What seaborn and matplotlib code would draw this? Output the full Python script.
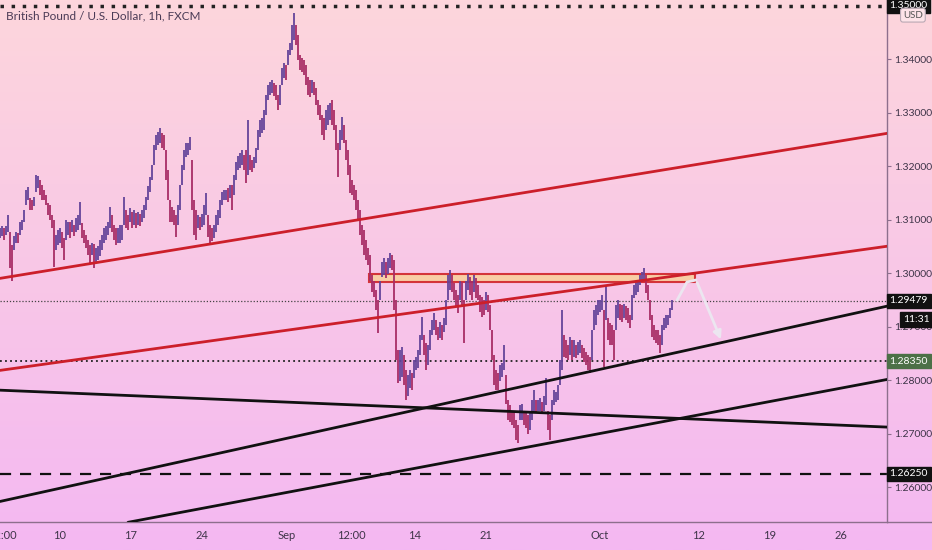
import numpy as np
import matplotlib.pyplot as plt
import seaborn as sns
from matplotlib.colors import LinearSegmentedColormap

# GBP/USD 1h (one high/low pair per ~3.4h step)
highs = [
    1.3084, 1.3087, 1.3084, 1.3087, 1.3108, 1.3076, 1.3052, 1.3069, 1.3076, 1.3074,
    1.3095, 1.3099, 1.3117, 1.3155, 1.3160, 1.3140, 1.3136, 1.3143, 1.3183, 1.3181,
    1.3173, 1.3164, 1.3155, 1.3145, 1.3130, 1.3127, 1.3108, 1.3099, 1.3071, 1.3080,
    1.3084, 1.3076, 1.3065, 1.3099, 1.3095, 1.3095, 1.3099, 1.3089, 1.3102, 1.3108,
    1.3132, 1.3093, 1.3080, 1.3071, 1.3061, 1.3052, 1.3057, 1.3054, 1.3046, 1.3050,
    1.3061, 1.3071, 1.3084, 1.3087, 1.3095, 1.3123, 1.3108, 1.3089, 1.3084, 1.3084,
    1.3089, 1.3089, 1.3142, 1.3117, 1.3108, 1.3121, 1.3114, 1.3117, 1.3112, 1.3114,
    1.3110, 1.3117, 1.3127, 1.3143, 1.3162, 1.3179, 1.3201, 1.3239, 1.3258, 1.3263,
    1.3271, 1.3261, 1.3258, 1.3230, 1.3192, 1.3136, 1.3123, 1.3117, 1.3108, 1.3127,
    1.3164, 1.3201, 1.3230, 1.3243, 1.3243, 1.3254, 1.3211, 1.3136, 1.3117, 1.3108,
    1.3104, 1.3110, 1.3127, 1.3149, 1.3108, 1.3089, 1.3084, 1.3089, 1.3108, 1.3117,
    1.3136, 1.3151, 1.3155, 1.3155, 1.3158, 1.3164, 1.3164, 1.3183, 1.3207, 1.3218,
    1.3224, 1.3230, 1.3220, 1.3230, 1.3286, 1.3220, 1.3211, 1.3216, 1.3233, 1.3267,
    1.3286, 1.3289, 1.3304, 1.3332, 1.3351, 1.3357, 1.3360, 1.3355, 1.3351, 1.3332,
    1.3351, 1.3383, 1.3392, 1.3388, 1.3417, 1.3430, 1.3463, 1.3486, 1.3463, 1.3445,
    1.3407, 1.3402, 1.3398, 1.3388, 1.3366, 1.3360, 1.3360, 1.3357, 1.3345, 1.3323,
    1.3314, 1.3295, 1.3289, 1.3304, 1.3314, 1.3317, 1.3323, 1.3304, 1.3276, 1.3243,
    1.3267, 1.3291, 1.3276, 1.3248, 1.3230, 1.3201, 1.3173, 1.3164, 1.3155, 1.3136,
    1.3117, 1.3089, 1.3080, 1.3061, 1.3046, 1.3033, 1.2996, 1.2986, 1.2968, 1.2949,
    1.2986, 1.3020, 1.3028, 1.3020, 1.3028, 1.3037, 1.3033, 1.3024, 1.2949, 1.2856,
    1.2856, 1.2861, 1.2846, 1.2818, 1.2809, 1.2818, 1.2814, 1.2837, 1.2843, 1.2856,
    1.2884, 1.2917, 1.2884, 1.2869, 1.2865, 1.2893, 1.2912, 1.2925, 1.2912, 1.2899,
    1.2908, 1.2902, 1.2915, 1.2949, 1.2996, 1.3005, 1.2996, 1.2981, 1.2968, 1.2958,
    1.2986, 1.2983, 1.2949, 1.2986, 1.2999, 1.2992, 1.2986, 1.2996, 1.2990, 1.2977,
    1.2958, 1.2955, 1.2949, 1.2964, 1.2958, 1.2940, 1.2893, 1.2846, 1.2818, 1.2814,
    1.2828, 1.2831, 1.2865, 1.2809, 1.2762, 1.2753, 1.2743, 1.2740, 1.2725, 1.2715,
    1.2753, 1.2756, 1.2743, 1.2738, 1.2734, 1.2740, 1.2762, 1.2781, 1.2762, 1.2762,
    1.2766, 1.2758, 1.2771, 1.2803, 1.2743, 1.2734, 1.2762, 1.2781, 1.2777, 1.2790,
    1.2837, 1.2930, 1.2884, 1.2874, 1.2865, 1.2880, 1.2874, 1.2874, 1.2865, 1.2871,
    1.2874, 1.2865, 1.2859, 1.2852, 1.2846, 1.2843, 1.2893, 1.2930, 1.2940, 1.2949,
    1.2949, 1.2958, 1.2930, 1.2977, 1.2915, 1.2906, 1.2902, 1.2893, 1.2940, 1.2949,
    1.2943, 1.2940, 1.2943, 1.2938, 1.2934, 1.2921, 1.2958, 1.2977, 1.2981, 1.2986,
    1.2996, 1.3001, 1.3009, 1.2996, 1.2977, 1.2949, 1.2921, 1.2902, 1.2893, 1.2893,
    1.2884, 1.2902, 1.2915, 1.2921, 1.2921, 1.2934, 1.2949,
]
lows = [
    1.3065, 1.3069, 1.3061, 1.3071, 1.3076, 1.3009, 1.2986, 1.3043, 1.3056, 1.3057,
    1.3071, 1.3080, 1.3095, 1.3127, 1.3136, 1.3117, 1.3117, 1.3125, 1.3151, 1.3158,
    1.3145, 1.3136, 1.3136, 1.3127, 1.3108, 1.3099, 1.3084, 1.3011, 1.3043, 1.3052,
    1.3057, 1.3046, 1.3024, 1.3061, 1.3071, 1.3065, 1.3076, 1.3069, 1.3076, 1.3080,
    1.3089, 1.3065, 1.3056, 1.3046, 1.3033, 1.3018, 1.3033, 1.3009, 1.3020, 1.3024,
    1.3031, 1.3043, 1.3056, 1.3061, 1.3071, 1.3084, 1.3076, 1.3061, 1.3052, 1.3056,
    1.3057, 1.3061, 1.3089, 1.3084, 1.3080, 1.3095, 1.3084, 1.3089, 1.3084, 1.3089,
    1.3087, 1.3095, 1.3102, 1.3117, 1.3136, 1.3151, 1.3173, 1.3201, 1.3230, 1.3239,
    1.3243, 1.3233, 1.3230, 1.3173, 1.3136, 1.3095, 1.3095, 1.3089, 1.3067, 1.3089,
    1.3117, 1.3164, 1.3192, 1.3216, 1.3220, 1.3230, 1.3117, 1.3071, 1.3061, 1.3084,
    1.3080, 1.3086, 1.3089, 1.3108, 1.3067, 1.3057, 1.3059, 1.3065, 1.3076, 1.3089,
    1.3102, 1.3127, 1.3136, 1.3136, 1.3132, 1.3140, 1.3117, 1.3145, 1.3173, 1.3192,
    1.3196, 1.3201, 1.3192, 1.3168, 1.3183, 1.3192, 1.3188, 1.3196, 1.3205, 1.3230,
    1.3254, 1.3261, 1.3267, 1.3295, 1.3323, 1.3332, 1.3336, 1.3330, 1.3323, 1.3304,
    1.3314, 1.3351, 1.3364, 1.3360, 1.3388, 1.3407, 1.3417, 1.3435, 1.3426, 1.3398,
    1.3379, 1.3375, 1.3370, 1.3351, 1.3332, 1.3329, 1.3336, 1.3332, 1.3314, 1.3295,
    1.3286, 1.3258, 1.3248, 1.3267, 1.3276, 1.3286, 1.3276, 1.3267, 1.3230, 1.3179,
    1.3230, 1.3248, 1.3243, 1.3211, 1.3183, 1.3149, 1.3145, 1.3136, 1.3117, 1.3099,
    1.3071, 1.3052, 1.3033, 1.3024, 1.3015, 1.2986, 1.2964, 1.2955, 1.2930, 1.2887,
    1.2949, 1.2992, 1.2996, 1.2990, 1.2999, 1.3009, 1.3005, 1.2930, 1.2837, 1.2794,
    1.2799, 1.2805, 1.2790, 1.2762, 1.2771, 1.2786, 1.2781, 1.2803, 1.2818, 1.2822,
    1.2846, 1.2874, 1.2846, 1.2818, 1.2828, 1.2856, 1.2884, 1.2893, 1.2884, 1.2874,
    1.2878, 1.2874, 1.2889, 1.2902, 1.2949, 1.2968, 1.2964, 1.2949, 1.2936, 1.2925,
    1.2949, 1.2940, 1.2869, 1.2949, 1.2968, 1.2958, 1.2949, 1.2964, 1.2953, 1.2949,
    1.2927, 1.2917, 1.2921, 1.2930, 1.2927, 1.2893, 1.2837, 1.2790, 1.2781, 1.2781,
    1.2799, 1.2805, 1.2818, 1.2756, 1.2725, 1.2721, 1.2715, 1.2710, 1.2687, 1.2682,
    1.2725, 1.2725, 1.2715, 1.2710, 1.2700, 1.2706, 1.2725, 1.2743, 1.2740, 1.2743,
    1.2743, 1.2740, 1.2743, 1.2753, 1.2706, 1.2687, 1.2725, 1.2753, 1.2758, 1.2762,
    1.2790, 1.2818, 1.2843, 1.2841, 1.2837, 1.2846, 1.2837, 1.2843, 1.2841, 1.2846,
    1.2850, 1.2841, 1.2833, 1.2828, 1.2818, 1.2814, 1.2837, 1.2893, 1.2902, 1.2921,
    1.2927, 1.2930, 1.2824, 1.2912, 1.2874, 1.2865, 1.2865, 1.2837, 1.2893, 1.2915,
    1.2912, 1.2908, 1.2915, 1.2912, 1.2906, 1.2897, 1.2912, 1.2953, 1.2958, 1.2964,
    1.2977, 1.2983, 1.2986, 1.2962, 1.2949, 1.2912, 1.2880, 1.2874, 1.2869, 1.2865,
    1.2850, 1.2865, 1.2893, 1.2897, 1.2902, 1.2915, 1.2930,
]

# x axis in trading days, 0 = Mon 10 Aug
tick_pos = [-4.05, 0, 5, 10, 16, 20.5, 25, 30, 38, 45, 50, 55]
tick_labels = ["12:00", "10", "17", "24", "Sep", "12:00", "14", "21", "Oct", "12", "19", "26"]
price_ticks = [1.26, 1.27, 1.28, 1.29, 1.30, 1.31, 1.32, 1.33, 1.34]

# drawn trend lines (day, price) end points
red_lines = [((-4.225, 1.2990), (58.24, 1.3261)), ((-4.225, 1.2818), (58.24, 1.3050))]
black_lines = [((-4.225, 1.2573), (58.24, 1.2938)),
               ((4.79, 1.2534), (58.24, 1.2801)),
               ((-4.225, 1.2781), (58.24, 1.2712))]
zone = (21.76, 44.72, 1.2983, 1.2999)
projection = [(43.45, 1.2949), (44.15, 1.2983), (44.79, 1.2987)]
projection_end = (46.62, 1.2871)

last_price = 1.29479
level_green = 1.28350
level_dash = 1.26250
level_top = 1.35000

sns.set_theme(style="white")
plt.rcParams['font.family'] = ['Lato', 'DejaVu Sans']

W, H = 932, 550
fig = plt.figure(figsize=(W / 100, H / 100), dpi=100)

# pink gradient background
bg = fig.add_axes([0, 0, 1, 1], zorder=-5)
cmap = LinearSegmentedColormap.from_list("bg", ["#f4b8f2", "#fdd6dc"])
bg.imshow(np.linspace(0, 1, 256).reshape(-1, 1)[::-1], aspect="auto", cmap=cmap,
          extent=[0, 1, 0, 1], origin="upper")
bg.set_axis_off()

ax = fig.add_axes([0, 28 / H, 887 / W, 522 / H])
ax.patch.set_alpha(0)
ax.set_xlim(-4.225, 58.24)
ax.set_ylim(1.25346, 1.35103)

step = 2 / 14.2
x = -60 / 14.2 + np.arange(len(highs)) * step
hi = np.array(highs)
lo = np.array(lows)
mid = (hi + lo) / 2
up = np.r_[True, mid[1:] >= mid[:-1]]
cols = np.where(up, "#65449a", "#a82d66")
ax.vlines(x, lo, hi, colors=cols, lw=1.3, zorder=3)

for (x0, y0), (x1, y1) in red_lines:
    sns.lineplot(x=[x0, x1], y=[y0, y1], color="#cc1f2a", lw=2, ax=ax, zorder=4)
for (x0, y0), (x1, y1) in black_lines:
    sns.lineplot(x=[x0, x1], y=[y0, y1], color="#111111", lw=2, ax=ax, zorder=4)

ax.add_patch(plt.Rectangle((zone[0], zone[2]), zone[1] - zone[0], zone[3] - zone[2],
                           facecolor="#f8cf9e", edgecolor="#d0242a", lw=1.5, alpha=0.9, zorder=2))

px, py = zip(*projection)
ax.plot(px, py, color="#ece6f0", lw=2, zorder=5)
ax.annotate("", xy=projection_end, xytext=projection[-1],
            arrowprops=dict(arrowstyle="-|>", color="#ece6f0", lw=2, mutation_scale=12), zorder=5)

ax.axhline(level_top, color="#222222", lw=2.5, ls=(0, (1, 2.2)), zorder=2)
ax.axhline(last_price, color="#444444", lw=0.9, ls=(0, (1, 1.5)), zorder=2)
ax.axhline(level_green, color="#222222", lw=1.3, ls=(0, (1, 1.8)), zorder=2)
ax.axhline(level_dash, color="#111111", lw=1.6, ls=(0, (5, 4)), zorder=2)

ax.set_xticks(tick_pos)
ax.set_xticklabels(tick_labels)
ax.yaxis.tick_right()
ax.set_yticks(price_ticks)
ax.set_yticklabels([f"{p:.5f}" for p in price_ticks])
ax.tick_params(axis="both", length=3, width=0.8, color="#8d6f8d", labelcolor="#3e3448",
               labelsize=7.5, pad=2)
ax.tick_params(axis="x", labelsize=8, pad=3)
for side in ["top", "left"]:
    ax.spines[side].set_visible(False)
for side in ["right", "bottom"]:
    ax.spines[side].set_color("#8d6f8d")
    ax.spines[side].set_linewidth(1)
fig.add_artist(plt.Line2D([887 / W, 1], [28 / H, 28 / H], color="#8d6f8d", lw=1))

ax.grid(False)

# price labels on the scale
def tag(price, text, face, dx=1.003, color="white"):
    ax.annotate(text, xy=(dx, price), xycoords=("axes fraction", "data"), va="center",
                ha="left", fontsize=7.5, color=color, annotation_clip=False,
                bbox=dict(boxstyle="square,pad=0.25", fc=face, ec=face), zorder=10)

tag(level_top, f"{level_top:.5f}", "#111111")
tag(last_price, f"{last_price:.5f}", "#111111")
tag(level_green, f"{level_green:.5f}", "#4c7047")
tag(level_dash, f"{level_dash:.5f}", "#111111")
tag(1.2913, "11:31", "#111111", dx=1.018)
ax.annotate("USD", xy=(1.018, 1.3482), xycoords=("axes fraction", "data"), va="center",
            ha="left", fontsize=7, color="#555555", annotation_clip=False,
            bbox=dict(boxstyle="round,pad=0.25", fc="#fde3e8", ec="#b9a8b4", lw=0.8), zorder=10)

fig.text(6 / W, 1 - 16 / H, "British Pound / U.S. Dollar, 1h, FXCM", fontsize=8.5,
         color="#4a3a55", va="center", ha="left")

fig.savefig("out.png", dpi=100)
